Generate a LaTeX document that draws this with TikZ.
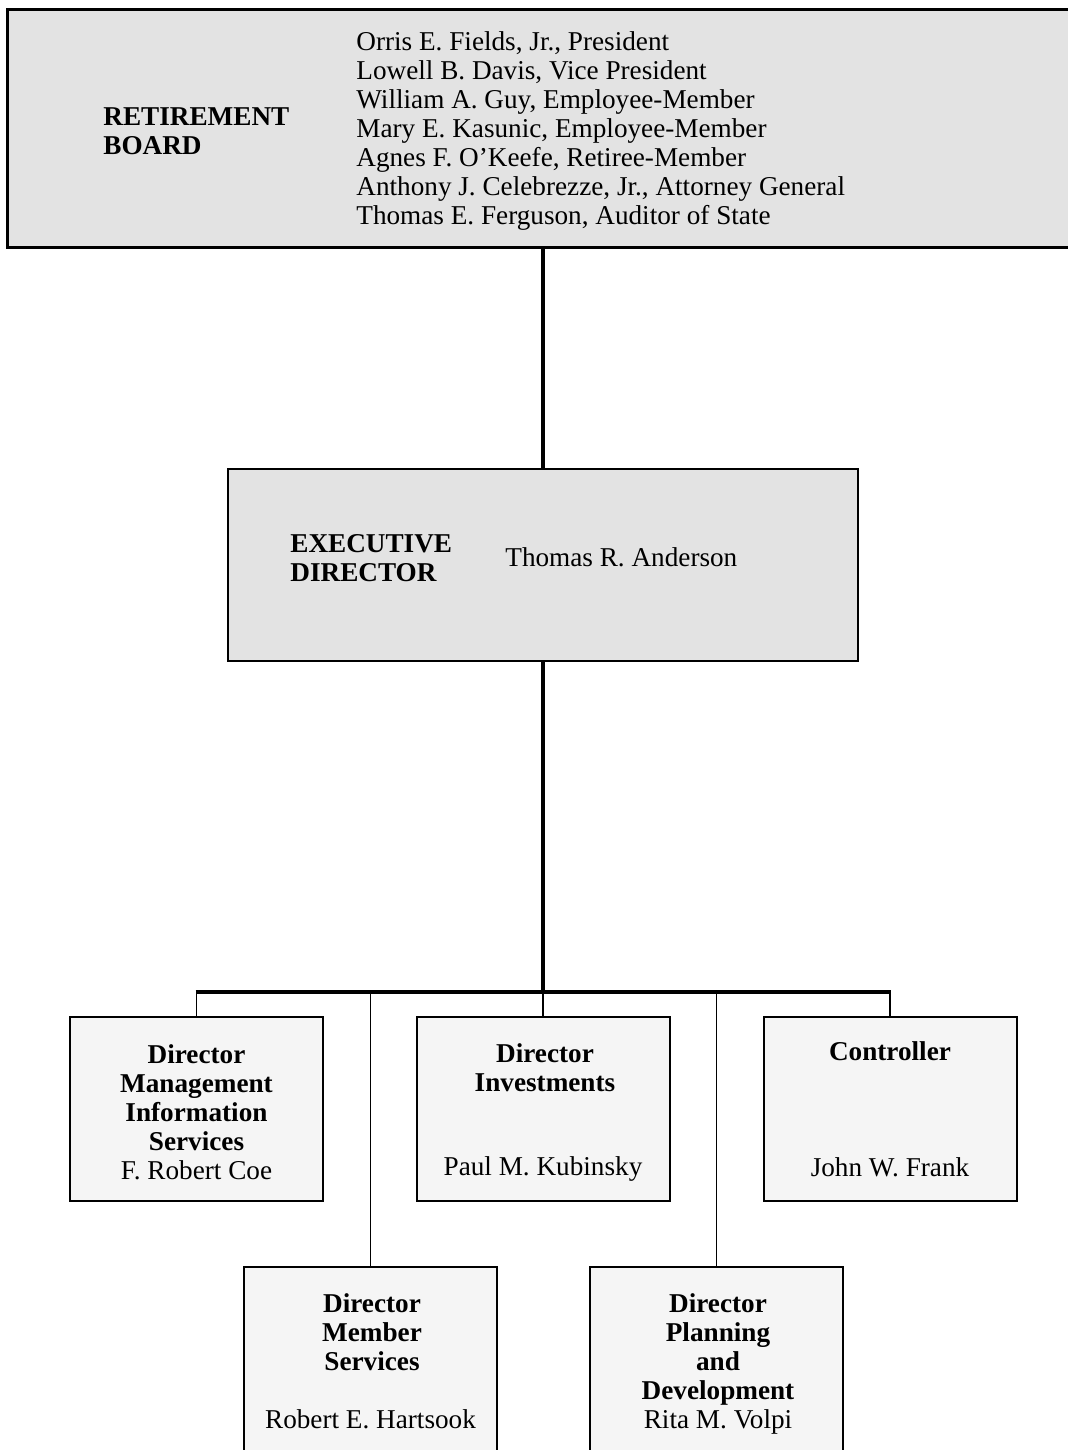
\documentclass[tikz,border=0pt]{standalone}
\usepackage{fontspec}
\setmainfont{Liberation Serif}
\usepackage{tikz}
\usetikzlibrary{positioning,calc}

\tikzset{
  txt/.style={font=\fontsize{13.6}{14.5}\selectfont, inner sep=0pt, align=center},
  boardbox/.style={draw, line width=1.5pt, fill=black!11, inner sep=0pt},
  unitbox/.style={draw, line width=1pt, fill=black!4, inner sep=0pt,
    minimum width=126.5pt, minimum height=92pt},
  trunk/.style={line width=2pt},
  drop/.style={line width=0.9pt}
}

\begin{document}
\begin{tikzpicture}[x=0.5pt, y=-0.5pt]

\useasboundingbox (0,0) rectangle (1067,1450);

% Retirement board
\node[boardbox, minimum width=534pt, minimum height=118.5pt] (rb) at (541,128.5) {};
\node[txt, anchor=west, align=left, font=\fontsize{13.6}{14.5}\selectfont\bfseries] (rbT) at (103,131.5) {RETIREMENT\\BOARD};
\node[txt, anchor=west, align=left] (rbM) at (356,131) {Orris E. Fields, Jr., President\\
  Lowell B. Davis, Vice President\\
  William A. Guy, Employee-Member\\
  Mary E. Kasunic, Employee-Member\\
  Agnes F. O'Keefe, Retiree-Member\\
  Anthony J. Celebrezze, Jr., Attorney General\\
  Thomas E. Ferguson, Auditor of State};

% Executive director
\node[boardbox, line width=1pt, minimum width=315pt, minimum height=96pt] (ed) at (543,565) {};
\node[txt, anchor=west, align=left, font=\fontsize{13.6}{14.5}\selectfont\bfseries] (edT) at (290,558) {EXECUTIVE\\DIRECTOR};
\node[txt, anchor=west] (edN) at (505,557) {Thomas R. Anderson};

% Directors, first row
\node[unitbox] (mis) at (196.5,1109) {};
\node[unitbox] (inv) at (543,1109) {};
\node[unitbox] (ctl) at (890,1109) {};
\node[txt] (misT) at (196.5,1112) {\textbf{Director}\\ \textbf{Management}\\ \textbf{Information}\\ \textbf{Services}\\ F. Robert Coe};
\node[txt, font=\fontsize{13.6}{14.5}\selectfont\bfseries] (invT) at (545,1067.5) {Director\\Investments};
\node[txt] (invN) at (543,1169) {Paul M. Kubinsky};
\node[txt, font=\fontsize{13.6}{14.5}\selectfont\bfseries] (ctlT) at (890,1051) {Controller};
\node[txt] (ctlN) at (890,1167) {John W. Frank};

% Directors, second row
\node[unitbox, minimum height=100pt] (mem) at (370.5,1367) {};
\node[unitbox, minimum height=100pt] (pln) at (716.5,1367) {};
\node[txt, font=\fontsize{13.6}{14.5}\selectfont\bfseries] (memT) at (372,1332) {Director\\Member\\Services};
\node[txt] (memN) at (370.5,1419) {Robert E. Hartsook};
\node[txt] (plnT) at (718,1364) {\textbf{Director}\\ \textbf{Planning}\\ \textbf{and}\\ \textbf{Development}\\ Rita M. Volpi};

% Connectors
\coordinate (bus) at (543,992);
\draw[trunk] (ed.north |- rb.south) -- (ed.north);
\draw[trunk] (ed.south) -- (bus);
\draw[trunk] ($(mis.north |- bus)+(-1,0)$) -- ($(ctl.north |- bus)+(1,0)$);
\draw[drop] (mis.north) -- (mis.north |- bus);
\draw[drop] (inv.north) -- (bus);
\draw[drop] (ctl.north) -- (ctl.north |- bus);
\draw[drop] (mem.north) -- (mem.north |- bus);
\draw[drop] (pln.north) -- (pln.north |- bus);

\end{tikzpicture}
\end{document}
